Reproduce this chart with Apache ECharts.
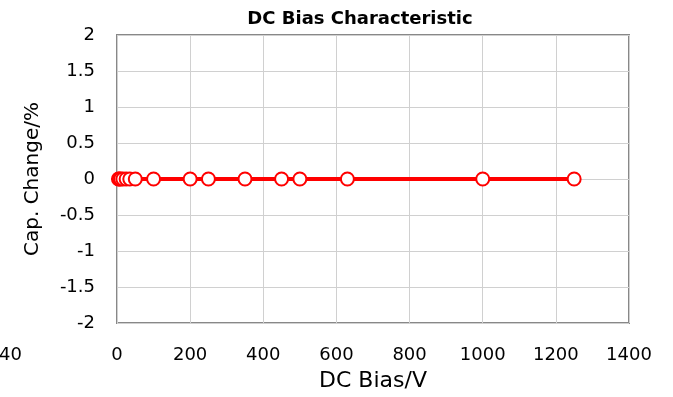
<!DOCTYPE html>
<html>
<head>
<meta charset="utf-8">
<script src="https://cdn.jsdelivr.net/npm/echarts@6/dist/echarts.min.js"></script>
<style>html,body{margin:0;padding:0;background:#fff;}#c{width:673px;height:397px;}</style>
</head>
<body>
<div id="c"></div>
<script>
const biasV = [4, 6.3, 10, 16, 25, 35, 50, 100, 200, 250, 350, 450, 500, 630, 1000, 1250];
const capChange = [0, 0, 0, 0, 0, 0, 0, 0, 0, 0, 0, 0, 0, 0, 0, 0];
const titleText = 'DC Bias Characteristic';
const xName = 'DC Bias/V';
const yName = 'Cap. Change/%';

const chart = echarts.init(document.getElementById('c'));
const font = 'DejaVu Sans';
chart.setOption({
  animation: false,
  title: {
    text: titleText, left: 355, top: 5, textAlign: 'center',
    textStyle: { fontFamily: font, fontWeight: 'bold', fontSize: 18, color: '#000' }
  },
  graphic: [{
    type: 'text', left: -1, top: 346,
    style: { text: '40', font: '18px DejaVu Sans', fill: '#000' }
  }],
  grid: { left: 117, right: 44, top: 35, bottom: 73, show: true, borderColor: '#888', borderWidth: 2 },
  xAxis: {
    type: 'value', min: 0, max: 1400, interval: 200,
    name: xName, nameLocation: 'middle', nameGap: 47,
    nameTextStyle: { fontFamily: font, fontSize: 22, color: '#000' },
    axisLine: { show: false }, axisTick: { show: false },
    axisLabel: { fontFamily: font, fontSize: 18, color: '#000', margin: 23, formatter: v => String(v) },
    splitLine: { show: true, lineStyle: { color: '#d0d0d0', width: 1 } }
  },
  yAxis: {
    type: 'value', min: -2, max: 2, interval: 0.5,
    name: yName, nameLocation: 'middle', nameGap: 74, nameRotate: 90,
    nameTextStyle: { fontFamily: font, fontSize: 20, color: '#000' },
    axisLine: { show: false }, axisTick: { show: false },
    axisLabel: { fontFamily: font, fontSize: 18, color: '#000', margin: 22, formatter: v => String(v) },
    splitLine: { show: true, lineStyle: { color: '#d0d0d0', width: 1 } }
  },
  series: [{
    type: 'line',
    data: biasV.map((v, i) => [v, capChange[i]]),
    lineStyle: { color: '#ff0000', width: 4 },
    symbol: 'circle', symbolSize: 13,
    itemStyle: { color: '#fff', borderColor: '#ff0000', borderWidth: 2 },
    z: 5
  }]
});
</script>
</body>
</html>
